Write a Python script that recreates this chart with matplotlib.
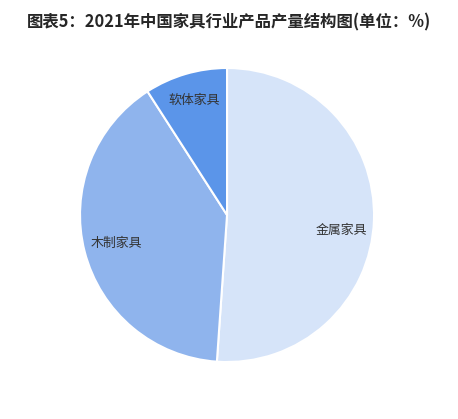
import matplotlib
matplotlib.use("Agg")
import matplotlib.pyplot as plt

plt.rcParams['font.family'] = ['Noto Sans CJK SC', 'DejaVu Sans']

title = "图表5：2021年中国家具行业产品产量结构图(单位：%)"
categories = ["金属家具", "木制家具", "软体家具"]
values = [51.1, 39.8, 9.1]
colors = ["#d6e4f9", "#8fb4ed", "#5b95e9"]

fig = plt.figure(figsize=(4.58, 4.19), dpi=100)
fig.patch.set_facecolor("white")
fig.text(0.5, 1 - 22 / 419, title, ha="center", va="center",
         fontsize=11.8, fontweight="bold", color="#262626")

ax = fig.add_axes([0.1747, 0.136, 0.642, 0.7017])
wedges, texts = ax.pie(values, labels=categories, colors=colors,
                       startangle=90, counterclock=False,
                       labeldistance=0.78,
                       wedgeprops=dict(edgecolor="white", linewidth=1.5),
                       textprops=dict(fontsize=9.3, color="#333333",
                                      ha="center", va="center"))
# small label nudges (style only)
label_dy = [-0.08, 0.0, 0.03]
for t, d in zip(texts, label_dy):
    t.set_horizontalalignment("center")
    t.set_verticalalignment("center")
    x, y = t.get_position()
    t.set_position((x, y + d))
ax.set_xlim(-1.0, 1.0)
ax.set_ylim(-1.0, 1.0)
ax.set_aspect("equal")
ax.axis("off")

fig.savefig("out.png", dpi=100, facecolor="white")
